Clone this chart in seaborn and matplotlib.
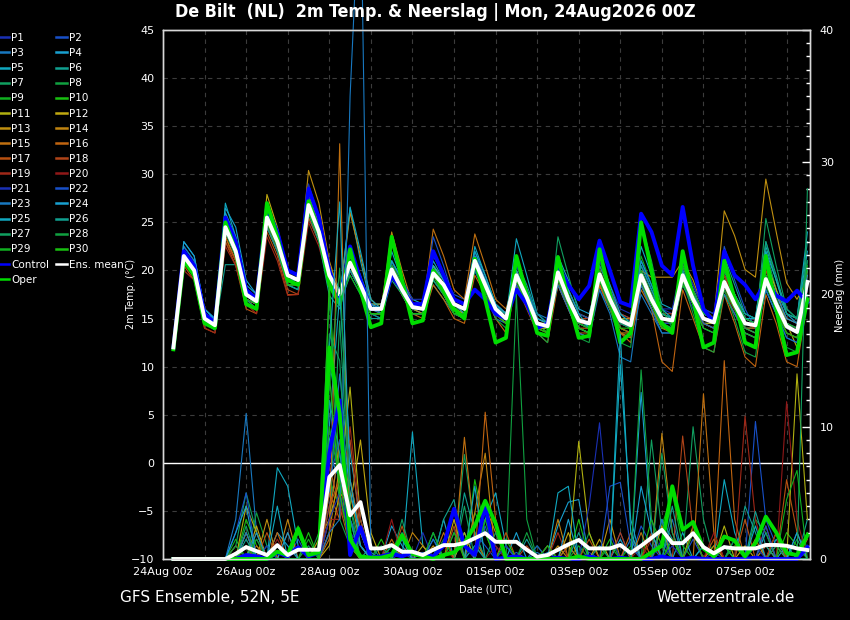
import pandas as pd
import matplotlib
matplotlib.use('Agg')
import matplotlib.pyplot as plt
from matplotlib.lines import Line2D
import seaborn as sns

# forecast hours (+6h .. +372h), 6-hourly
hours = list(range(6, 373, 6))
tick_hours = [0, 48, 96, 144, 192, 240, 288, 336]
tick_labels = ['24Aug 00z', '26Aug 00z', '28Aug 00z', '30Aug 00z',
               '01Sep 00z', '03Sep 00z', '05Sep 00z', '07Sep 00z']
day_hours = list(range(0, 373, 24))

member_colors = ['#1a30b4', '#1850c8', '#1878c0', '#18a0d0', '#10a8c0',
                 '#10a090', '#10a060', '#10a040', '#10b020', '#18c010',
                 '#b0b010', '#c0a810', '#c09010', '#c08410', '#c07010',
                 '#c06410', '#b85010', '#b04418', '#a02818', '#901818']

# ---------------- 2m temperature (deg C) ----------------
t_p01 = [12.2, 22, 20.5, 15.5, 14.8, 25, 22.5, 18, 17.3, 26, 23.5, 20, 19.5, 27.5, 24.5, 19,
         17, 21.5, 19, 16.5, 16.5, 21, 18.5, 16, 15.5, 20.5, 19, 17, 16.5, 20, 18, 15.5,
         14.5, 18.5, 16.5, 14, 13.5, 21, 18, 15.5, 15, 20.5, 18, 15.5, 15, 21, 18, 16,
         15.5, 18.5, 16, 14, 13.5, 20, 17.5, 15, 14.5, 19.5, 17, 14.5, 13.5, 17]
t_p02 = [11.8, 21, 19.5, 14.8, 14, 24, 21.5, 17, 16.5, 25, 22.5, 19, 18.5, 26, 23.5, 19.5,
         17.5, 20, 18, 15.5, 15.5, 19.5, 17.5, 15.5, 15.5, 21.5, 19.5, 17.5, 17, 22, 19, 16.5,
         15.5, 19, 17, 14.5, 14, 18.5, 16.5, 14.5, 14, 18, 16, 14, 13.5, 18.5, 16.5, 14.5,
         14.5, 20, 17.5, 15.5, 15, 18, 16, 13.5, 13, 18, 15.5, 13, 12.5, 16.5]
t_p03 = [12, 22.5, 21, 15.5, 15, 25.5, 23, 18, 17, 25, 22.5, 19, 18.5, 27, 24.5, 20,
         17.5, 20, 18, 15.5, 15.5, 20.5, 18.5, 16.5, 16.5, 19, 17.5, 15.5, 15, 20, 17.5, 15,
         14.5, 20.5, 18, 15.5, 15, 18.5, 16, 13.5, 13, 18.5, 16, 13.5, 13, 17.5, 15.5, 13.5,
         13.5, 21, 18.5, 16, 15.5, 17.5, 15.5, 14, 14, 19.5, 17, 14.5, 14, 20]
t_p04 = [12.1, 23, 21.5, 16, 14.8, 26.5, 24.5, 19, 17.5, 26, 23, 19.5, 19, 28, 25, 20.5,
         18, 22, 19.5, 16.5, 16.5, 21, 19, 17, 16.5, 19.5, 18, 16.5, 16, 21.5, 19, 16.5,
         15.5, 20, 17.5, 15, 14.5, 21.5, 19, 16, 15.5, 19.5, 17, 15, 14.5, 20.5, 18, 15.5,
         15, 19, 17, 15, 15, 20.5, 17.5, 15.5, 15, 21, 18, 15.5, 14.5, 21]
t_p05 = [11.9, 22, 20.5, 14.5, 13.8, 27, 23.5, 17, 16.5, 25, 22, 18.5, 18, 26.5, 23.5, 19,
         17, 26.5, 21, 16.5, 15.5, 22, 19, 16, 15.5, 20.5, 18.5, 16, 15.5, 22, 19.5, 16.5,
         15, 23.3, 19.5, 15.5, 14.5, 20.5, 17.5, 15, 14, 20, 17.5, 15.5, 14.5, 22.5, 19.5, 16.5,
         16, 18.5, 16.5, 14.5, 14.5, 19.5, 17.5, 15.5, 15, 22.5, 19, 16, 15, 24]
t_p06 = [11.7, 21.5, 19.5, 14.5, 14, 20.6, 20.6, 16.5, 16, 24.5, 22, 18.5, 18, 25.5, 23, 18.5,
         16.5, 19.5, 17.5, 15, 15, 19, 17.5, 15.5, 15.5, 18.5, 17, 15.5, 15, 20, 18, 15.5,
         14.5, 18.5, 16.5, 14, 14, 19, 16.5, 14, 13.5, 18.5, 16.5, 14, 13.5, 19, 16.5, 14.5,
         14.5, 19, 16.5, 14.5, 14, 17.5, 15.5, 13.5, 13, 18, 15.5, 13.5, 13, 17.5]
t_p07 = [12, 21, 19.5, 15, 14.5, 24, 21.5, 17.5, 17, 25.5, 23, 19, 19, 27, 24, 19.5,
         17.5, 20.5, 18.5, 16, 16, 20.5, 18.5, 16.5, 16, 19, 17.5, 16, 16, 21.5, 18.5, 15.5,
         14.5, 19.5, 17, 14.5, 13.5, 23.5, 19.5, 15.5, 15, 19, 16.5, 14, 13.5, 18.5, 16, 14,
         14, 20.5, 17.5, 15, 14.5, 19.5, 17, 14.5, 14, 22, 18, 14.5, 13.5, 19.5]
t_p08 = [12.2, 21.5, 20, 15.5, 14.5, 24.5, 22.5, 18, 17, 25, 22.5, 19.5, 19, 26, 23.5, 19.5,
         17.5, 21, 18.5, 16, 16, 20, 18, 16, 16, 20, 18.5, 16.5, 16, 20.5, 18.5, 16,
         15, 19, 17, 14.5, 14, 19.5, 17, 14.5, 14, 19.5, 17, 14.5, 14, 20, 17.5, 15.5,
         15, 20.5, 18, 15.5, 15, 18, 16, 14, 14, 23, 19, 15.5, 15, 21]
t_p09 = [11.8, 21, 19.5, 14.5, 14, 24, 21.5, 17, 16.5, 25, 22.5, 19, 18.5, 26.5, 24, 19,
         17, 20, 18, 15.5, 15.5, 21, 18.5, 16, 16, 20.5, 18.5, 16, 15.5, 21, 18.5, 16,
         15, 21.5, 18, 14.5, 13.5, 20, 17, 14, 13.5, 21, 18, 15, 14.5, 21.5, 18.5, 15.5,
         15, 21, 18, 15.5, 15, 19.5, 17, 15, 14.5, 20, 17, 14.5, 14, 18.5]
t_p10 = [12, 22, 20.5, 15, 14.5, 25, 22, 17.5, 17, 26, 23.5, 19.5, 19, 27.5, 24.5, 19.5,
         17.5, 21.5, 19, 16.5, 16, 19.5, 17.5, 15.5, 15.5, 19, 17.5, 15.5, 15.5, 20, 18, 15.5,
         14.5, 18.5, 16.5, 14, 13.5, 19, 16.5, 14, 13.5, 19, 16.5, 14, 13.5, 18.5, 16.5, 14.5,
         14, 18.5, 16.5, 14.5, 14, 18, 16, 14, 13.5, 18.5, 16, 13.5, 13, 17]
t_p11 = [12.3, 22, 20.5, 15.5, 14.5, 24, 22, 17.5, 17, 26.5, 24, 20, 19.5, 28, 25, 20,
         17.5, 21, 19, 16.5, 16.5, 20.5, 18.5, 16.5, 16.5, 20.5, 19, 17, 16.5, 21, 19, 16.5,
         15.5, 19, 17, 14.5, 14.5, 20.5, 18, 15.5, 15, 20, 17.5, 15, 14.5, 19.5, 17, 15,
         15, 19, 16.5, 14.5, 14.5, 19, 17, 15, 15, 19.5, 17, 14.5, 12, 16.5]
t_p12 = [11.9, 21, 19.5, 14.5, 14, 23.5, 21, 17, 16.5, 27.9, 24.5, 20, 19.5, 28.5, 25, 19.5,
         17, 20, 18, 15.5, 15.5, 19.5, 17.5, 16, 16, 19.5, 18, 16, 15.5, 20.5, 18, 15.5,
         14.5, 18.5, 16.5, 14, 14, 20, 17.5, 14.5, 14, 20, 17.5, 15, 14.5, 20, 17.5, 15.5,
         15, 20.5, 18, 15.5, 15, 20, 17.5, 15, 14.5, 21, 18, 14.5, 14, 20]
t_p13 = [12, 21.5, 20, 15, 14.5, 24.5, 22, 17.5, 17, 26, 23.5, 19.5, 19, 30.4, 27, 21,
         17.5, 20.5, 18, 16, 16, 20, 18, 16, 15.5, 19.5, 18, 16.5, 16, 21, 18.5, 16,
         15, 20, 17.5, 15, 14.5, 19.5, 17, 14.5, 14.5, 19, 17, 15, 15, 20, 19.3, 19.3,
         19.3, 21, 19, 16, 15, 26.2, 23.6, 20.1, 19.3, 29.5, 24, 18.7, 17, 19]
t_p14 = [12, 22, 20, 15, 14.5, 25.5, 23, 18, 16.5, 25, 22.5, 18.5, 18.5, 27, 24, 19,
         17, 26, 21.5, 17, 16, 24, 20, 16.5, 16, 19.5, 18.5, 16.5, 15.5, 20.5, 18.5, 16,
         15, 19.5, 17, 14.5, 14, 19, 16.5, 14, 13.5, 18.5, 16, 13.5, 13.5, 19, 16.5, 14,
         14, 19, 17, 15, 14.5, 19.5, 17, 14.5, 14, 19, 16.5, 14, 13.5, 18]
t_p15 = [11.8, 21.5, 20, 15, 14.5, 24, 21.5, 17, 16.5, 25, 22.5, 19, 18.5, 26.5, 23.5, 19,
         17, 21, 18.5, 16, 15.5, 20, 18, 16, 16, 24.3, 21.5, 18, 17, 23.8, 20.5, 17,
         16, 19.5, 17, 14.5, 14, 19, 16.5, 14, 14, 18.5, 16, 13.5, 13, 18, 16, 14,
         13.5, 19, 16.5, 14.5, 14, 18.5, 16, 14, 13.5, 19.5, 16.5, 14, 13.5, 18]
t_p16 = [12.1, 21, 19.5, 14.5, 14, 23.5, 21, 17, 16.5, 25, 22.5, 19, 18.5, 26, 23.5, 19,
         17, 20.5, 18, 15.5, 15.5, 19.5, 17.5, 15.5, 15, 18.5, 17, 15, 14.5, 19.5, 17.5, 15,
         13.5, 18.5, 16, 13.5, 12.5, 18.5, 16, 13.5, 13, 18.5, 16, 13.5, 12.5, 18.5, 16, 10.5,
         9.5, 18, 15, 12, 11.5, 17.5, 14.5, 11, 10, 17.5, 14.5, 10.5, 10, 17]
t_p17 = [12, 20.5, 19, 14, 13.5, 23, 20.5, 16, 15.5, 24, 21.5, 17.5, 17.5, 25.5, 23, 18.5,
         16.5, 20, 18, 15.5, 15.5, 20, 17.5, 15.5, 15.5, 19.5, 17.5, 15.5, 15, 20.5, 18, 15.5,
         14.5, 19, 16.5, 14, 13.5, 18.5, 16, 13.5, 13.5, 19, 16.5, 14, 13.5, 19.5, 17, 14.5,
         14.5, 19, 16.5, 14.5, 14, 18.5, 16, 14, 14, 19, 16.5, 14, 13.5, 18.5]
t_p18 = [11.9, 21, 19.5, 14.5, 14, 23, 21, 17, 16, 24.5, 22, 18, 17.5, 26, 23.5, 19,
         17, 21.5, 19, 16.5, 16, 20.5, 18.5, 16.5, 16, 20, 18.5, 16.5, 16, 21.5, 19, 16.5,
         15.5, 20, 17.5, 15, 14.5, 20.5, 17.5, 15, 15, 20.5, 18, 15.5, 15, 20, 17.5, 15.5,
         15.5, 20.5, 18, 15.5, 15, 19, 16.5, 14.5, 14.5, 20, 17.5, 15, 14.5, 19.5]
t_p19 = [12, 20, 19, 14, 13.5, 22.5, 20.5, 16.5, 15.5, 23.5, 21, 17.4, 17.5, 25, 22.5, 18.5,
         16.5, 20, 18, 15.5, 15.5, 19.5, 17.5, 15.5, 15.5, 19.5, 17.5, 15.5, 15.5, 20.5, 18, 15.5,
         15, 19.5, 17, 14.5, 14, 20, 17, 14.5, 14.5, 20, 17.5, 15, 14.5, 20, 17.5, 15,
         15, 20, 17.5, 15, 14.5, 19.5, 17, 14.5, 14, 20.5, 17.5, 15, 14.5, 19.5]
t_p20 = [12.2, 21.5, 20, 15, 14.5, 24, 21.5, 17.5, 17, 25, 22.5, 19, 18.5, 26.5, 24, 19.5,
         17.5, 21, 18.5, 16, 16, 20.5, 18.5, 16.5, 16.5, 20, 18.5, 16.5, 16, 21, 18.5, 16,
         15, 19.5, 17, 14.5, 14, 19.5, 17, 14.5, 14, 19.5, 17, 14.5, 14, 19.5, 17, 14.5,
         14.5, 19, 16.5, 14.5, 14, 18, 15.5, 13.5, 13, 19, 16, 13.5, 13, 18]
t_p21 = [12, 22, 20.5, 15.5, 14.5, 25.5, 23, 18, 17, 26.5, 24, 20, 19.5, 29, 25.5, 20,
         17.5, 21.5, 19, 16.5, 16, 21, 19, 17, 17, 22, 19.5, 17, 16.5, 21.5, 19, 16.5,
         15.5, 20.5, 18, 15.5, 14.5, 20.5, 18, 15.5, 15, 21, 18.5, 16, 15.5, 21, 18.5, 16,
         16, 21, 18.5, 16, 15.5, 20, 17.5, 15, 14.5, 19.5, 17, 14.5, 14, 19]
t_p22 = [11.8, 21.5, 20, 15, 14, 24.5, 22, 17.5, 16.5, 25.5, 23, 19.5, 19, 27, 24, 19.5,
         17, 20, 18, 15.5, 15, 19.5, 17.5, 15.5, 15.5, 23.5, 20.5, 17, 16.5, 20, 18, 15.5,
         15, 18.5, 16.5, 14.5, 14, 19, 16.5, 14, 13.5, 19.5, 17, 14.5, 14, 19, 16.5, 14.5,
         14.5, 19.5, 17, 15, 14.5, 22.5, 19, 16, 14, 18.5, 16, 14, 13.5, 18]
t_p23 = [12.1, 22.5, 21, 16, 15, 25, 22.5, 18, 17, 25.5, 23, 19, 19, 27, 24, 19.5,
         18, 21, 18.5, 16, 15.5, 20, 18, 16, 16, 20, 18.5, 16.5, 16, 20.5, 18, 15.5,
         15, 19, 17, 14.5, 14, 18.5, 16, 13.5, 13, 18, 15.5, 11, 10.5, 18.5, 16, 13.5,
         13.5, 19, 16.5, 14.5, 14, 17.5, 15.5, 13.5, 13, 18, 15.5, 13, 12.5, 17.5]
t_p24 = [12, 23, 21.5, 16, 15, 26, 23.5, 18.5, 17.5, 26, 23.5, 19.5, 19, 27.5, 24.5, 19.5,
         17.5, 21.5, 19, 16.5, 16, 20.5, 18.5, 16.5, 16, 20.5, 19, 17, 16.5, 21.5, 19, 16.5,
         15.5, 20, 17.5, 15, 14.5, 19.5, 17, 14.5, 14, 19.5, 17, 15, 14.5, 20, 17.5, 15.5,
         15, 20, 17.5, 15.5, 15, 20, 17.5, 15, 14.5, 20.5, 17.5, 15, 14.5, 19.5]
t_p25 = [12, 22, 20.5, 15, 14.5, 25, 22.5, 17.5, 16.5, 25.5, 23, 19, 18.5, 27, 24.5, 19.5,
         17, 26.6, 22, 17, 16, 21, 19, 16.5, 16, 21, 19, 16.5, 15.5, 22.5, 19.5, 16.5,
         15.5, 21, 18, 15, 14.5, 21, 18, 15.5, 14, 21.5, 18.5, 15.5, 14.5, 21, 18.5, 16,
         15, 20.5, 18, 15.5, 15, 19, 17, 15, 15, 22, 19, 15.5, 15, 22]
t_p26 = [11.9, 21, 19.5, 14.5, 14, 24, 21.5, 17, 16, 24.5, 22, 18.5, 18, 26, 23, 17.4,
         16, 20, 18, 15.5, 15, 19.5, 17.5, 15.5, 15.5, 19, 17.5, 15.5, 15.5, 20.5, 18.5, 16,
         15.5, 21, 18.5, 15.5, 14.5, 20, 17.5, 15, 14.5, 20.5, 18, 15, 14.5, 20.5, 18, 15.5,
         15, 20, 17.5, 15.5, 15, 21.5, 18.5, 15.5, 15, 23, 19.5, 15.5, 15, 23]
t_p27 = [12, 21.5, 20, 15, 14.5, 24.5, 22, 17.5, 16.5, 25.5, 23, 19.5, 19, 27, 24, 19.5,
         17.5, 21, 18.5, 16, 16, 20, 18, 16, 16, 20, 18.5, 16.5, 16, 21, 18.5, 16,
         15, 19, 17, 14.5, 14, 19.5, 17, 14.5, 14, 19.5, 17, 14.5, 14, 19, 16.5, 14.5,
         14, 19, 16.5, 14, 13.5, 19, 16.5, 14, 13.5, 25.4, 20.5, 16, 15, 20]
t_p28 = [11.8, 21, 19.5, 14.5, 14, 24, 21.5, 17, 16.5, 25, 22.5, 18.5, 18.5, 26.5, 23.5, 19,
         17, 20.5, 18, 15.5, 15.5, 20, 17.5, 15.5, 15.5, 19.5, 17.5, 15.5, 15, 20.5, 18, 15,
         14, 19, 16.5, 13.5, 12.5, 19.5, 16.5, 13, 12.5, 19, 16, 12.5, 12, 25, 21, 16,
         14, 19, 15.5, 12, 11.5, 18, 15, 11.5, 11, 19, 16, 12, 11.5, 17.5]
t_p29 = [12.1, 21.5, 20, 15, 14.5, 25, 22.5, 18, 17, 25.5, 23, 19.5, 19, 26.5, 23.5, 19,
         17, 19.5, 17.5, 15.5, 15.5, 20.5, 18.5, 16.5, 16, 20, 18.5, 16.5, 16, 21, 18.5, 16,
         15, 19.5, 17, 14.5, 14, 20, 17.5, 14.5, 14, 20, 17.5, 15, 14.5, 20, 17.5, 15,
         14.5, 20.5, 18, 15.5, 15, 20, 17.5, 15, 14.5, 19.5, 17, 14.5, 14, 20.5]
t_p30 = [11.9, 21, 19.5, 14.5, 14, 24.5, 22, 17.5, 16.5, 25, 22.5, 18.5, 18.5, 26, 23.5, 19,
         17, 20.5, 18, 15.5, 15.5, 19.5, 17.5, 15.5, 15.5, 19.5, 17.5, 15.5, 15.5, 20.5, 18, 15.5,
         14.5, 19, 16.5, 14, 13.5, 19, 16.5, 14, 13.5, 19, 16.5, 14, 14, 19, 16.5, 14,
         14, 19, 16.5, 14, 13.5, 18.5, 16, 13.5, 13, 18.5, 16, 13.5, 13, 18.5]
t_control = [12, 22, 20.5, 15.5, 14.5, 25.5, 23, 18, 17, 26.5, 24, 20, 19.5, 28.5, 25.5, 20,
             17, 22.5, 19, 16, 16, 19.5, 18, 16.5, 16.5, 22, 19.5, 17, 16.5, 18, 17, 15.5,
             15, 18, 16.5, 14, 14.5, 20.5, 18.5, 17, 18.4, 23.1, 20, 16.7, 16.3, 25.9, 24, 20.5,
             19.5, 26.6, 20.5, 16, 14.6, 22, 19.5, 18.5, 17, 18.8, 17.4, 16.8, 17.9, 16.7]
t_oper = [11.8, 21, 19.5, 14.5, 14, 25, 22, 16.5, 16, 27, 23.5, 19, 18.5, 27.2, 24, 18.5,
          16.5, 22.2, 18, 14.1, 14.5, 23.5, 19, 14.5, 14.8, 20, 18, 16, 15, 21.2, 17, 12.5,
          13, 21.5, 17.5, 13.5, 13.2, 21.4, 17, 13, 13.2, 22.2, 17.5, 12.5, 13.5, 25, 20, 14.5,
          13.5, 22, 17, 12, 12.5, 21, 17, 12.5, 12, 21.5, 16, 11.2, 11.5, 17]
t_mean = [12, 21.5, 20, 15, 14.3, 24.5, 22, 17.5, 16.8, 25.5, 23, 19.5, 19, 26.8, 24, 19.5,
          17.5, 20.8, 18.5, 16, 16, 20.1, 18, 16.2, 16, 19.7, 18.5, 16.5, 16, 21, 18.5, 16,
          15, 19.5, 17.2, 14.5, 14.2, 19.8, 17, 14.8, 14.5, 19.6, 17, 14.8, 14.3, 19.5, 17, 15,
          14.8, 19.5, 17, 15, 14.6, 18.8, 16.5, 14.5, 14.3, 19.1, 16.5, 14.2, 13.6, 18.8]

# ---------------- precipitation (mm / 6h) ----------------
r_p01 = [0, 0, 0, 0, 0, 0, 0, 0, 1.5, 0, 0.5, 0, 0, 0, 0, 4,
         8, 2, 1, 0, 0, 0, 0.5, 0, 0, 0, 0, 2, 1, 0, 3, 1,
         0, 0, 0, 0, 0, 0, 0, 0, 0.5, 0, 0, 2, 0, 0, 0, 1.5,
         0, 0, 0, 0, 0.5, 0, 0, 0, 0, 1, 0, 0, 0, 0.5]
r_p02 = [0, 0, 0, 0, 0, 0, 0, 1, 0, 0, 0, 0, 1.5, 0, 0, 12,
         5, 1, 0, 0, 0, 1, 0, 0, 0, 1.5, 0, 0, 0, 2, 1, 0,
         0, 0.5, 0, 0, 0, 0, 0, 0, 0, 1, 0, 0, 0, 2.5, 1, 0,
         0, 0, 1.5, 0, 0, 0, 0, 0, 10.4, 3, 1, 0, 0, 0]
r_p03 = [0, 0, 0, 0, 0, 0, 3, 11, 2, 0, 1, 0, 0, 0, 0, 5,
         14, 6, 2, 0, 0, 0, 0, 0, 0.5, 0, 0, 0, 0, 1, 0, 0,
         1, 0, 0, 0, 0.5, 0, 0, 0, 0, 0, 0, 0, 1.5, 0, 0, 0,
         3, 0, 0, 0, 0, 1, 0, 0, 0, 0, 0, 0, 2, 0]
r_p04 = [0, 0, 0, 0, 0, 0, 0, 0, 0, 0, 2, 1, 0, 0, 0, 8,
         6, 3, 1, 0, 0, 2.5, 1, 0, 0, 0, 3, 0, 2, 0, 0, 0,
         0, 0, 0, 0, 0, 2.5, 4.3, 4.5, 0, 0, 0, 1.5, 0, 12.6, 2, 0,
         0, 0, 0, 1, 0, 0, 0, 0, 0, 2, 0, 1, 0, 0]
r_p05 = [0, 0, 0, 0, 0, 0, 0, 0, 0, 0, 6.9, 5.5, 1, 0, 0, 10,
         20, 8, 3, 0, 0, 0, 0, 9.6, 1, 0, 0, 0, 0, 0, 3, 5,
         1, 0, 0, 0, 0, 0, 0, 0, 0, 0, 0, 14.7, 3, 0, 0, 0,
         0, 2, 0, 0, 0, 6, 2, 0, 0, 0, 1.5, 0, 0, 0]
r_p06 = [0, 0, 0, 0, 0, 0, 0, 2, 0, 1, 0, 0, 0, 0, 0, 15,
         10, 3, 0, 1, 0, 0, 0, 0, 0, 2, 0, 0, 5, 2, 0, 0,
         0, 0, 1.5, 0, 0, 0, 1, 0, 0, 0, 0, 0, 0, 0, 0, 3,
         1.5, 0, 0, 0, 0, 0, 0, 4, 2, 0, 0, 0, 0, 3]
r_p07 = [0, 0, 0, 0, 0, 0, 1, 5, 2, 0, 0, 0, 0, 1, 0, 2,
         18, 4, 1, 0, 0, 0, 3, 0, 0, 0, 0, 0, 7.9, 2, 0, 0,
         0, 0, 0, 0, 1, 0, 0, 0, 0, 0, 0, 0, 0, 0, 9, 2,
         0, 0, 10, 3, 0, 0, 0, 0, 0, 0, 0, 0, 1.5, 0]
r_p08 = [0, 0, 0, 0, 0, 0, 0, 0, 3.5, 1, 0, 0, 0, 0, 2, 20,
         3, 1, 0, 0, 0, 0, 0, 0, 0, 0, 1.5, 0, 0, 0, 0, 0,
         0, 20, 3, 0, 0, 0, 0, 0, 2, 0, 0, 0, 0, 0, 0, 0,
         0, 0, 0, 0, 1, 0, 0, 0, 3, 2, 0, 0, 0, 0]
r_p09 = [0, 0, 0, 0, 0, 0, 1.5, 0, 0, 0, 0, 0, 2.5, 0, 0, 6,
         4, 2, 0, 0, 0, 1, 0, 0, 0, 0, 0, 0, 0, 3.5, 2, 0,
         0, 0, 0, 0, 0, 0, 0, 1, 0, 0, 0, 0, 1, 0, 0, 2.5,
         5, 1, 0, 0, 0, 0, 1, 0, 0, 0, 0, 0, 0, 2]
r_p10 = [0, 0, 0, 0, 0, 0, 0, 3, 1, 0, 0, 0, 0, 2, 0, 21,
         6, 1, 0, 0, 1.5, 0, 0, 0, 0, 0, 0, 0, 0, 6, 2, 0,
         0, 0, 0, 1, 0, 0, 0, 0, 0, 0, 1.5, 0, 0, 0, 3, 1,
         0, 0, 0, 0, 0, 0, 0, 0, 0, 0, 0, 2, 1, 0]
r_p11 = [0, 0, 0, 0, 0, 0, 0, 4, 2, 0, 0, 0, 0, 0, 1.5, 3,
         6, 13, 3, 0, 0, 0, 0, 0, 1, 0, 0, 0, 2, 0, 0, 0,
         0, 0, 0, 0, 0, 0, 0, 8.9, 2, 0, 0, 0, 0, 0, 0, 0,
         0, 0, 0, 0, 0, 2.5, 0, 0, 0, 0, 0, 0, 14, 3]
r_p12 = [0, 0, 0, 0, 0, 0, 0, 0, 2.5, 0, 1, 0, 0, 0, 0, 1,
         5, 4, 9, 2, 0, 0, 0, 0, 0, 0, 0, 3, 0, 0, 0, 0,
         0, 0, 0, 0, 0, 0, 2, 0, 0, 1.5, 0, 0, 0, 0, 0, 0,
         0, 0, 2.5, 1, 0, 0, 0, 1, 0, 0, 2, 0, 0, 0]
r_p13 = [0, 0, 0, 0, 0, 0, 0, 2, 0, 3, 0, 0, 0, 0, 0, 2,
         7, 2, 0, 0, 0, 0, 0, 0, 0, 1, 0, 0, 0, 0, 4, 2,
         0, 0, 0, 0, 0, 1, 0, 0, 0, 0, 3, 0, 0, 0, 0, 2.5,
         0, 0, 0, 0, 1, 0, 0, 0, 0, 1, 0, 0, 0, 0]
r_p14 = [0, 0, 0, 0, 0, 0, 0.5, 0, 0, 0, 0, 3, 0, 0, 0, 3,
         9, 5, 1, 0, 0, 0, 0, 2, 1, 0, 0, 0, 0, 3.5, 8, 0,
         0, 0, 0, 0, 0, 3, 0, 0, 0, 0, 0, 0, 0, 0, 0, 9.5,
         2, 0, 0, 0, 0, 0, 0, 0, 1.5, 0, 0, 0, 0, 0]
r_p15 = [0, 0, 0, 0, 0, 0, 0, 0, 0, 0, 0, 0, 1, 0, 0, 1.5,
         31.4, 1, 0, 0, 0, 0, 0, 0, 0, 0, 2, 0, 9.2, 1.5, 0, 0,
         0, 0, 0, 0, 0, 0, 1, 0, 0, 0, 0, 0, 0, 2, 0, 0,
         0, 0, 0, 12.5, 2, 0, 0, 0, 0, 0, 1, 0, 0, 0]
r_p16 = [0, 0, 0, 0, 0, 0, 0, 0, 1, 0, 2, 0, 0, 0, 0, 5,
         3, 6, 2, 0, 0, 1.5, 0, 0, 0, 0, 0, 0, 0, 0, 11.1, 3,
         0, 0, 0, 0, 1, 0, 0, 0, 0, 0, 0, 0, 2, 0, 0, 0,
         0, 0, 2, 0, 0, 15, 3, 0, 0, 0, 0, 0, 0, 1.5]
r_p17 = [0, 0, 0, 0, 0, 0, 1, 0, 0, 2, 0, 0, 0, 0, 0, 7,
         4, 1, 0, 0, 0, 0, 2.5, 0, 0, 0, 0, 0, 0, 0, 0, 0,
         2, 0, 0, 0, 0, 0, 0, 0, 1.5, 0, 0, 0, 0, 0, 2, 0,
         0, 0, 0, 0, 1.5, 0, 0, 3, 0, 0, 0, 6, 2, 0]
r_p18 = [0, 0, 0, 0, 0, 0, 0, 1, 0, 0, 0, 2, 0, 0, 0, 4,
         6, 9, 2, 0, 0, 0, 0, 0, 0, 0, 0, 2.5, 0, 0, 0, 0,
         0, 0, 1, 0, 0, 0, 0, 0, 0, 0, 0, 2, 0, 0, 0, 0,
         0, 9.3, 2, 0, 0, 0, 0, 0, 0, 2.5, 0, 0, 0, 0]
r_p19 = [0, 0, 0, 0, 0, 0, 0, 0, 2, 0, 0, 0, 0, 0, 0, 3,
         3, 10, 3, 0, 0, 0, 0, 0, 0, 0, 1, 0, 0, 0, 0, 0,
         0, 0, 0, 0, 0, 2, 0, 0, 0, 0, 0, 0, 0, 0, 1.5, 0,
         0, 0, 0, 0, 0, 0, 0, 10.8, 3, 0, 2, 0, 0, 0]
r_p20 = [0, 0, 0, 0, 0, 0, 0, 0, 0, 0, 1.5, 0, 0, 0, 0, 2,
         4, 2, 0, 0, 0, 3, 0, 0, 0, 0, 0, 0, 0, 0, 0, 1,
         0, 0, 0, 0, 0, 0, 0, 0, 0, 0, 0, 0, 0, 1, 0, 0,
         0, 0, 0, 0, 2, 0, 0, 0, 0, 0, 0, 11.9, 3, 0]
r_p21 = [0, 0, 0, 0, 0, 0, 0, 0, 0, 1, 0, 0, 0, 0, 0, 3,
         5, 2, 0, 0, 0, 0, 0, 0, 2, 0, 0, 0, 0, 0, 0, 0,
         1, 0, 0, 0, 0, 0, 0, 0, 4, 10.3, 2, 0, 0, 0, 0, 0,
         1, 0, 0, 0, 0, 0, 0, 0, 1, 0, 0, 0, 0, 1]
r_p22 = [0, 0, 0, 0, 0, 0, 2, 5, 0, 0, 0, 0, 0, 0, 0, 6,
         9, 3, 1, 0, 0, 0, 0, 0, 0, 0, 0, 0, 0, 0, 2.5, 0,
         0, 0, 0, 1, 0, 0, 0, 0, 0, 0, 5.5, 5.8, 1, 0, 0, 0,
         0, 0, 0, 0, 0, 0, 0, 0, 0, 2.5, 0, 0, 0, 0]
r_p23 = [0, 0, 0, 0, 0, 0, 0, 2, 0, 0, 1, 0, 0, 0, 0, 2,
         3, 35, 52, 0.5, 0, 0, 0, 0, 0, 1.5, 0, 0, 0, 0, 0, 0,
         0, 0, 0, 0.5, 0, 0, 0, 0, 0, 0, 0, 0, 0, 0, 0, 3,
         0, 0, 0, 0, 0, 0, 1.5, 0, 0, 0, 0, 0, 0, 0]
r_p24 = [0, 0, 0, 0, 0, 0, 2, 4, 0, 0, 0, 2, 0, 0, 0, 9,
         12, 5, 2, 0, 0, 1, 0, 0, 0, 0, 0, 0, 0, 0, 0, 0,
         0, 2, 0, 0, 0, 0, 3, 0, 0, 0, 0, 0, 0, 5.5, 2, 0,
         0, 0, 0, 0, 0, 1, 0, 0, 0, 0, 0, 0, 2, 0]
r_p25 = [0, 0, 0, 0, 0, 0, 0, 0, 2, 0, 4, 0, 0, 0, 0, 16,
         27, 6, 1, 0, 0, 0, 1.5, 0, 0, 0, 0, 0, 0, 5.5, 0, 0,
         0, 0, 0, 0, 0, 5, 5.5, 0, 0, 0, 0, 17, 2, 0, 0, 0,
         0, 0, 0, 1, 0, 0, 0, 0, 2.5, 0, 0, 0, 0, 0]
r_p26 = [0, 0, 0, 0, 0, 0, 0, 1.5, 0, 0, 0, 0, 2, 0, 0, 12,
         8, 3, 0, 0, 0, 0, 2, 0, 0, 0, 3, 4.5, 0, 1, 0, 0,
         0, 0, 0, 0, 0, 0, 0, 2, 0, 0, 0, 0, 0, 0, 0, 0,
         4, 0, 0, 0, 0, 0, 0, 0, 3.6, 1, 0, 0, 0, 0]
r_p27 = [0, 0, 0, 0, 0, 0, 0, 2.5, 0, 0, 0, 0, 0, 0, 0, 17,
         15, 2, 0, 0, 1, 0, 0, 0, 0, 0, 0, 0, 4, 0, 0, 2,
         0, 0, 0, 0, 0, 0, 0, 0, 0, 1, 0, 0, 0, 0, 0, 8,
         2, 0, 0, 0, 0, 0, 0, 0, 0, 0, 1, 0, 0, 28]
r_p28 = [0, 0, 0, 0, 0, 0, 1, 0, 0, 0, 1, 0, 0, 0, 0, 13,
         22, 4, 0, 0, 0, 1, 0, 0, 0, 0, 0, 0, 0, 0, 0, 0,
         0, 0, 2, 0, 0, 0, 0, 0, 0, 0, 0, 0, 0, 14.3, 3, 0,
         0, 0, 0, 0, 0, 0, 1.5, 0, 0, 0, 0, 0, 0, 0]
r_p29 = [0, 0, 0, 0, 0, 0, 0, 0, 1.5, 0, 0, 0, 0, 1.5, 0, 10,
         6, 2, 0, 0, 0, 0, 0, 0, 0, 2, 0, 0, 0, 0, 3, 0,
         0, 0, 0, 0, 1, 0, 0, 0, 0, 0, 1, 0, 0, 0, 0, 0,
         0, 0, 2, 0, 0, 0, 0, 0, 0, 0, 0, 4.5, 6.7, 0]
r_p30 = [0, 0, 0, 0, 0, 0, 0, 1, 0, 0, 0, 0, 2, 0, 0, 14,
         5, 1, 0, 0, 0, 0, 0, 0, 0, 0, 0, 2, 0, 0, 0, 0,
         1.5, 0, 0, 0, 0, 0, 0, 3, 0, 0, 0, 0, 0, 0, 0, 0,
         1.5, 0, 0, 0, 0, 1, 0, 0, 0, 0, 0, 0, 0, 2]
r_control = [0, 0, 0, 0, 0, 0, 0, 0.3, 0.2, 0, 0.5, 0.2, 0.9, 0.2, 0.5, 8,
             12, 0.3, 2.4, 0.1, 0.2, 0.4, 0.2, 0.5, 0.3, 0.2, 1, 3.8, 1, 0.3, 4.1, 0,
             0.1, 0.2, 0, 0, 0, 0.1, 0, 0, 0.2, 0, 0, 0.1, 0, 0, 0, 0.2,
             0, 0, 0.1, 0, 0, 0, 0, 0, 0.1, 0, 0, 0, 0, 0.9]
r_oper = [0, 0, 0, 0, 0, 0, 0, 0, 0, 0, 0.55, 0.3, 2.3, 0.3, 0.5, 16,
          11, 1.5, 0.2, 0.1, 0.1, 0.3, 1.8, 0.4, 0.2, 0, 0.3, 0.5, 1.2, 2.5, 4.4, 2.7,
          0, 0, 0, 0, 0, 0, 0, 0.2, 0, 0, 0, 0, 0, 0, 0.5, 1,
          5.5, 2.2, 2.8, 0.8, 0.2, 1.7, 1.4, 0.2, 1.2, 3.2, 2.0, 0.45, 0.3, 1.8]
r_mean = [0, 0, 0, 0, 0, 0, 0.4, 0.9, 0.6, 0.3, 1.05, 0.3, 0.7, 0.7, 0.7, 6.2,
          7.1, 3.3, 4.3, 0.8, 0.8, 1.05, 0.55, 0.55, 0.3, 0.7, 1.05, 1.05, 1.2, 1.57, 1.95, 1.3,
          1.3, 1.3, 0.7, 0.17, 0.3, 0.7, 1.1, 1.44, 0.8, 0.8, 0.8, 1.06, 0.45, 1.0, 1.6, 2.2,
          1.2, 1.2, 1.95, 0.9, 0.43, 0.9, 0.8, 0.8, 0.8, 1.06, 1.06, 1.0, 0.8, 0.68]

temp_members = [t_p01, t_p02, t_p03, t_p04, t_p05, t_p06, t_p07, t_p08, t_p09, t_p10,
                t_p11, t_p12, t_p13, t_p14, t_p15, t_p16, t_p17, t_p18, t_p19, t_p20,
                t_p21, t_p22, t_p23, t_p24, t_p25, t_p26, t_p27, t_p28, t_p29, t_p30]
rain_members = [r_p01, r_p02, r_p03, r_p04, r_p05, r_p06, r_p07, r_p08, r_p09, r_p10,
                r_p11, r_p12, r_p13, r_p14, r_p15, r_p16, r_p17, r_p18, r_p19, r_p20,
                r_p21, r_p22, r_p23, r_p24, r_p25, r_p26, r_p27, r_p28, r_p29, r_p30]
member_names = ['P%d' % (i + 1) for i in range(30)]
palette = {name: member_colors[i % 20] for i, name in enumerate(member_names)}

frames = []
for name, t, r in zip(member_names, temp_members, rain_members):
    frames.append(pd.DataFrame({'hour': hours, 'member': name, 'temp': t, 'rain': r}))
df = pd.concat(frames, ignore_index=True)

fig = plt.figure(figsize=(8.5, 6.2), dpi=100, facecolor='black')
ax = fig.add_axes([163 / 850, 61 / 620, 647 / 850, 529 / 620])
ax.set_facecolor('black')

# temperature
sns.lineplot(data=df, x='hour', y='temp', hue='member', hue_order=member_names,
             palette=palette, estimator=None, linewidth=0.8, legend=False, ax=ax)
sns.lineplot(x=hours, y=t_control, color='#0000ff', linewidth=2.8, ax=ax)
sns.lineplot(x=hours, y=t_oper, color='#00dd00', linewidth=2.8, ax=ax)
sns.lineplot(x=hours, y=t_mean, color='white', linewidth=2.8, ax=ax)
ax.axhline(0, color='white', linewidth=1, zorder=1.8)

# precipitation on the right axis
ax2 = ax.twinx()
sns.lineplot(data=df, x='hour', y='rain', hue='member', hue_order=member_names,
             palette=palette, estimator=None, linewidth=0.8, legend=False, ax=ax2)
sns.lineplot(x=hours, y=r_control, color='#0000ff', linewidth=2.8, ax=ax2)
sns.lineplot(x=hours, y=r_oper, color='#00dd00', linewidth=2.8, ax=ax2)
sns.lineplot(x=hours, y=r_mean, color='white', linewidth=2.8, ax=ax2)
for line in ax2.get_lines():
    line.set_clip_on(False)

ax.set_xlim(0, 373.5)
ax.set_ylim(-10, 45)
ax2.set_ylim(0, 40)

ax.set_xticks(tick_hours)
ax.set_xticklabels(tick_labels)
ax.set_xticks(day_hours, minor=True)
ax.set_yticks(range(-10, 46, 5))
grid_kw = dict(color='#3c3c3c', linestyle=(0, (4, 4)), linewidth=0.8)
ax.grid(True, which='both', axis='x', **grid_kw)
ax.grid(True, which='major', axis='y', **grid_kw)
ax.set_xlabel('')
ax.set_ylabel('')
ax2.set_ylabel('')
ax.tick_params(axis='both', which='both', length=0, colors='white', labelsize=8)
ax.tick_params(axis='y', pad=6)
ax.tick_params(axis='x', pad=6)

ax2.set_yticks(range(0, 41, 10))
ax2.set_yticks(range(0, 41, 1), minor=True)
ax2.tick_params(axis='y', which='major', direction='in', length=6, width=1,
                colors='white', labelsize=8, pad=7)
ax2.tick_params(axis='y', which='minor', direction='in', length=3, width=1, colors='white')
ax2.grid(False)

for a in (ax, ax2):
    for sp in a.spines.values():
        sp.set_color('#d8d8d8')
        sp.set_linewidth(1)

fig.text(435 / 850, 1 - 12 / 620, 'De Bilt  (NL)  2m Temp. & Neerslag | Mon, 24Aug2026 00Z',
         ha='center', va='center', color='white', fontsize=12.8, fontweight='bold',
         fontstretch='condensed')
fig.text(131 / 850, 1 - 294 / 620, '2m Temp. (°C)', rotation=90, ha='center', va='center',
         color='white', fontsize=7)
fig.text(840 / 850, 1 - 295 / 620, 'Neerslag (mm)', rotation=90, ha='center', va='center',
         color='white', fontsize=7)
fig.text(486 / 850, 1 - 589 / 620, 'Date (UTC)', ha='center', va='center',
         color='white', fontsize=7)
fig.text(120 / 850, 1 - 598 / 620, 'GFS Ensemble, 52N, 5E', ha='left', va='center',
         color='white', fontsize=11)
fig.text(795 / 850, 1 - 598 / 620, 'Wetterzentrale.de', ha='right', va='center',
         color='white', fontsize=11)

# legend: two columns, row-wise order P1 P2 / P3 P4 ...
col1 = [(member_names[i], member_colors[i % 20]) for i in range(0, 30, 2)]
col1 += [('Control', '#0000ff'), ('Oper', '#00dd00')]
col2 = [(member_names[i], member_colors[i % 20]) for i in range(1, 30, 2)]
col2 += [('Ens. mean', 'white')]
entries = col1 + col2
handles = [Line2D([0], [0], color=c, linewidth=1.8) for _, c in entries]
labels = [n for n, _ in entries]
fig.legend(handles, labels, ncol=2, loc='upper left', bbox_to_anchor=(-2 / 850, 1 - 33 / 620),
           frameon=False, fontsize=7.5, labelcolor='white', handlelength=1.1,
           handletextpad=0.15, columnspacing=0.65, labelspacing=0.49, borderpad=0,
           borderaxespad=0)

fig.savefig('out.png', dpi=100, facecolor='black')
